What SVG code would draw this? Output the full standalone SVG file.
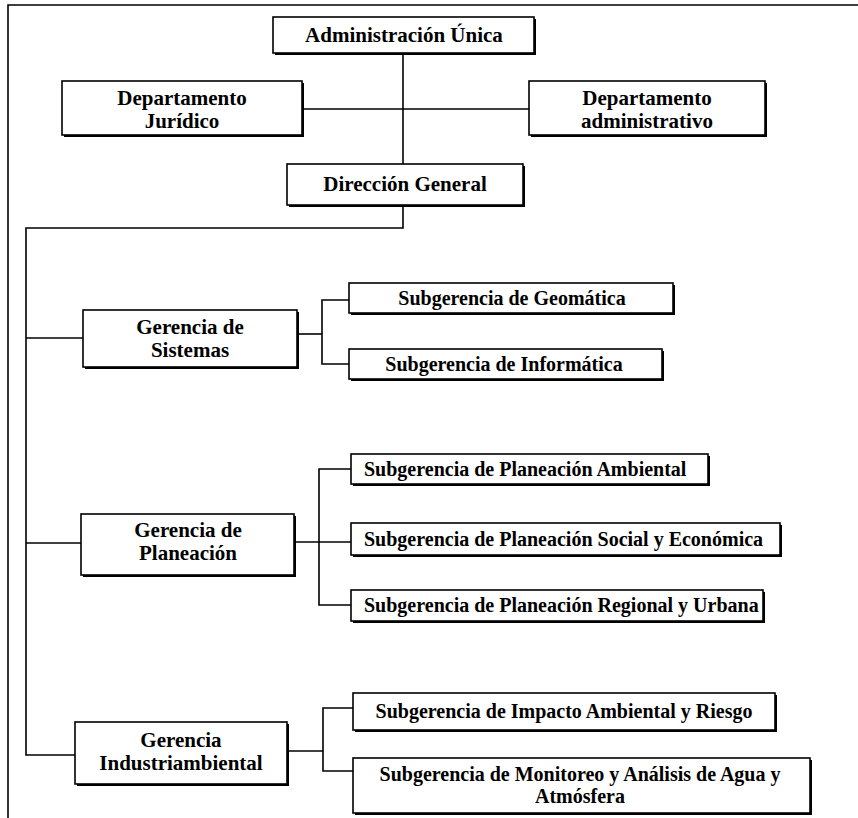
<svg xmlns="http://www.w3.org/2000/svg" width="858" height="818" viewBox="0 0 858 818">
<style>
  .box{fill:#fff;stroke:#000;stroke-width:1.6}
  .sh{fill:#000}
  .t{font-family:"Liberation Serif","Times New Roman",serif;font-weight:bold;font-size:21px;fill:#000;text-anchor:middle}
  .s{font-size:20px}
  .l{text-anchor:start}
  .c{fill:none;stroke:#000;stroke-width:1.6}
</style>
<rect width="858" height="818" fill="#fff"/>
<g id="frame">
  <path class="c" d="M8,818 V5 H858"/>
</g>
<g id="connectors">
  <path class="c" d="M403,53 V164"/>
  <path class="c" d="M302,109 H529"/>
  <path class="c" d="M403,205 V228 H26 V755 H75"/>
  <path class="c" d="M26,338 H83"/>
  <path class="c" d="M26,543 H81"/>
  <path class="c" d="M297,334 H322"/>
  <path class="c" d="M349,300 H322 V364 H349"/>
  <path class="c" d="M294,542 H351"/>
  <path class="c" d="M351,469 H319 V605 H351"/>
  <path class="c" d="M287,751 H323"/>
  <path class="c" d="M353,708 H323 V771 H353"/>
</g>
<g id="admin-unica">
  <rect class="sh" x="275" y="19" width="261" height="36"/>
  <rect class="box" x="273" y="17" width="261" height="36"/>
  <text class="t" x="404" y="42">Administración Única</text>
</g>
<g id="dep-juridico">
  <rect class="sh" x="64" y="83" width="240" height="54"/>
  <rect class="box" x="62" y="81" width="240" height="54"/>
  <text class="t" x="182" y="105">Departamento</text>
  <text class="t" x="182" y="128">Jurídico</text>
</g>
<g id="dep-administrativo">
  <rect class="sh" x="531" y="83" width="236" height="54"/>
  <rect class="box" x="529" y="81" width="236" height="54"/>
  <text class="t" x="647" y="105">Departamento</text>
  <text class="t" x="647" y="128">administrativo</text>
</g>
<g id="direccion-general">
  <rect class="sh" x="289" y="166" width="236" height="41"/>
  <rect class="box" x="287" y="164" width="236" height="41"/>
  <text class="t" x="405" y="191">Dirección General</text>
</g>
<g id="ger-sistemas">
  <rect class="sh" x="85" y="312" width="214" height="57"/>
  <rect class="box" x="83" y="310" width="214" height="57"/>
  <text class="t" x="190" y="334">Gerencia de</text>
  <text class="t" x="190" y="357">Sistemas</text>
</g>
<g id="sub-geomatica">
  <rect class="sh" x="351" y="285" width="324" height="30"/>
  <rect class="box" x="349" y="283" width="324" height="30"/>
  <text class="t s" x="512" y="305">Subgerencia de Geomática</text>
</g>
<g id="sub-informatica">
  <rect class="sh" x="351" y="351" width="313" height="30"/>
  <rect class="box" x="349" y="349" width="313" height="30"/>
  <text class="t s" x="504" y="371">Subgerencia de Informática</text>
</g>
<g id="ger-planeacion">
  <rect class="sh" x="83" y="516" width="213" height="61"/>
  <rect class="box" x="81" y="514" width="213" height="61"/>
  <text class="t" x="188" y="537">Gerencia de</text>
  <text class="t" x="188" y="560">Planeación</text>
</g>
<g id="sub-plan-ambiental">
  <rect class="sh" x="353" y="456" width="357" height="30"/>
  <rect class="box" x="351" y="454" width="357" height="30"/>
  <text class="t s l" x="364" y="476">Subgerencia de Planeación Ambiental</text>
</g>
<g id="sub-plan-social">
  <rect class="sh" x="353" y="525" width="429" height="32"/>
  <rect class="box" x="351" y="523" width="429" height="32"/>
  <text class="t s l" x="364" y="546">Subgerencia de Planeación Social y Económica</text>
</g>
<g id="sub-plan-regional">
  <rect class="sh" x="353" y="592" width="412" height="31"/>
  <rect class="box" x="351" y="590" width="412" height="31"/>
  <text class="t s l" x="364" y="612">Subgerencia de Planeación Regional y Urbana</text>
</g>
<g id="ger-industriambiental">
  <rect class="sh" x="77" y="724" width="212" height="62"/>
  <rect class="box" x="75" y="722" width="212" height="62"/>
  <text class="t" x="181" y="747">Gerencia</text>
  <text class="t" x="181" y="770">Industriambiental</text>
</g>
<g id="sub-impacto">
  <rect class="sh" x="355" y="695" width="422" height="37"/>
  <rect class="box" x="353" y="693" width="422" height="37"/>
  <text class="t s" x="564" y="718">Subgerencia de Impacto Ambiental y Riesgo</text>
</g>
<g id="sub-monitoreo">
  <rect class="sh" x="355" y="760" width="457" height="55"/>
  <rect class="box" x="353" y="758" width="457" height="55"/>
  <text class="t s" x="580" y="781">Subgerencia de Monitoreo y Análisis de Agua y</text>
  <text class="t s" x="580" y="803">Atmósfera</text>
</g>
</svg>
